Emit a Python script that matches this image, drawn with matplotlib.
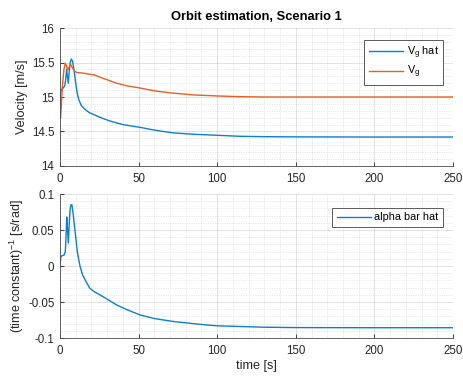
import matplotlib
matplotlib.use("Agg")
import matplotlib.pyplot as plt
from matplotlib.ticker import MultipleLocator

# ---- data ----
t_vg_hat = [0, 0.5, 1, 2, 3, 3.6, 4.2, 4.7, 5.3, 5.8, 6.5, 7.2, 8, 9, 10, 11, 12, 13.5, 15, 17, 19,
            22, 26, 32, 40, 51, 60, 72, 85, 100, 115, 130, 150, 200, 250]
vg_hat = [15.0, 15.08, 15.11, 15.13, 15.16, 15.25, 15.40, 15.30, 15.20, 15.35, 15.50, 15.55, 15.52,
          15.38, 15.20, 15.05, 14.96, 14.88, 14.84, 14.80, 14.77, 14.74, 14.70, 14.65, 14.60, 14.56,
          14.52, 14.48, 14.46, 14.445, 14.43, 14.425, 14.422, 14.42, 14.42]

t_vg = [0, 0.3, 0.8, 1.5, 2.5, 3.4, 4.2, 4.9, 5.8, 6.8, 8, 9, 10.6, 15, 19, 22, 25, 30, 36, 43, 51,
        60, 70, 85, 100, 114, 130, 150, 250]
vg = [15.0, 14.69, 14.85, 15.15, 15.40, 15.49, 15.45, 15.39, 15.43, 15.47, 15.42, 15.38, 15.355,
      15.345, 15.33, 15.32, 15.29, 15.25, 15.20, 15.16, 15.13, 15.09, 15.06, 15.03, 15.015, 15.005,
      15.0, 15.0, 15.0]

t_alpha = [0, 0.5, 1, 2.5, 3.4, 3.9, 4.3, 4.8, 5.3, 5.8, 6.4, 6.9, 7.6, 8.5, 9.5, 11, 12.7, 14.3,
           15.9, 19, 22, 25.4, 30, 36, 43, 51, 60, 72, 89, 100, 114.5, 130, 150, 200, 250]
alpha_hat = [0.0, 0.012, 0.014, 0.015, 0.02, 0.045, 0.068, 0.05, 0.032, 0.055, 0.078, 0.085, 0.085,
             0.07, 0.05, 0.02, 0.0, -0.012, -0.019, -0.031, -0.036, -0.040, -0.046, -0.054, -0.061,
             -0.068, -0.073, -0.077, -0.081, -0.083, -0.084, -0.085, -0.0855, -0.0857, -0.0857]

top_yticks = [14, 14.5, 15, 15.5, 16]
top_yticklabels = ["14", "14.5", "15", "15.5", "16"]
bot_yticks = [-0.1, -0.05, 0, 0.05, 0.1]
bot_yticklabels = ["-0.1", "-0.05", "0", "0.05", "0.1"]
xticks = [0, 50, 100, 150, 200, 250]

# ---- style ----
plt.rcParams['font.family'] = ['Liberation Sans', 'DejaVu Sans']
plt.rcParams['mathtext.fontset'] = 'custom'
plt.rcParams['mathtext.rm'] = 'Liberation Sans'
plt.rcParams['mathtext.it'] = 'Liberation Sans'
BLUE = '#0E7FCA'
ORANGE = '#E65F27'
TXT = '#262626'

fig = plt.figure(figsize=(4.64, 3.77), dpi=100)
ax1 = fig.add_axes([0.1293, 0.5597, 0.847, 0.366])
ax2 = fig.add_axes([0.1293, 0.1034, 0.847, 0.382])


def style(ax):
    ax.set_xlim(0, 250)
    ax.set_xticks(xticks)
    ax.xaxis.set_minor_locator(MultipleLocator(10))
    for s in ['top', 'right']:
        ax.spines[s].set_visible(False)
    for s in ['left', 'bottom']:
        ax.spines[s].set_color('#4a4a4a')
        ax.spines[s].set_linewidth(0.6)
    ax.tick_params(which='major', direction='in', length=3, width=0.6, colors=TXT,
                   labelsize=8.3)
    ax.tick_params(axis='x', which='major', pad=5)
    ax.tick_params(axis='y', which='major', pad=4)
    ax.tick_params(which='minor', length=0)
    ax.grid(which='major', color='#262626', alpha=0.15, linewidth=0.6)
    ax.grid(which='minor', color='#262626', alpha=0.18, linewidth=0.5, linestyle=(0, (1, 1.5)))
    ax.set_axisbelow(True)


style(ax1)
ax1.plot(t_vg_hat, vg_hat, color=BLUE, lw=1.0, label=r'V$_\mathregular{g}$ hat')
ax1.plot(t_vg, vg, color=ORANGE, lw=1.0, label=r'V$_\mathregular{g}$')
ax1.set_ylim(14, 16)
ax1.set_yticks(top_yticks)
ax1.set_yticklabels(top_yticklabels)
ax1.yaxis.set_minor_locator(MultipleLocator(0.1))
ax1.set_ylabel('Velocity [m/s]', fontsize=9.1, color=TXT, labelpad=3)
ax1.set_title('Orbit estimation, Scenario 1', fontsize=9.3, fontweight='bold', color='black', pad=6)
leg1 = ax1.legend(loc='upper right', bbox_to_anchor=(0.9746, 0.913), borderaxespad=0,
                  fontsize=7.8, handlelength=3.2, fancybox=False, framealpha=1,
                  edgecolor='#404040', borderpad=0.4, labelspacing=0.3, handletextpad=0.3)
leg1.get_frame().set_linewidth(0.6)

style(ax2)
ax2.plot(t_alpha, alpha_hat, color=BLUE, lw=1.0, label='alpha bar hat')
ax2.set_ylim(-0.1, 0.1)
ax2.set_yticks(bot_yticks)
ax2.set_yticklabels(bot_yticklabels)
ax2.yaxis.set_minor_locator(MultipleLocator(0.01))
ax2.set_ylabel(r'(time constant)$^{\mathregular{-1}}$ [s/rad]', fontsize=9.1, color=TXT, labelpad=1.5)
ax2.set_xlabel('time [s]', fontsize=9.1, color=TXT, labelpad=2)
leg2 = ax2.legend(loc='upper right', bbox_to_anchor=(0.9746, 0.903), borderaxespad=0,
                  fontsize=7.8, handlelength=3.2, fancybox=False, framealpha=1,
                  edgecolor='#404040', borderpad=0.4, handletextpad=0.3)
leg2.get_frame().set_linewidth(0.6)

fig.savefig('out.png', dpi=100)
